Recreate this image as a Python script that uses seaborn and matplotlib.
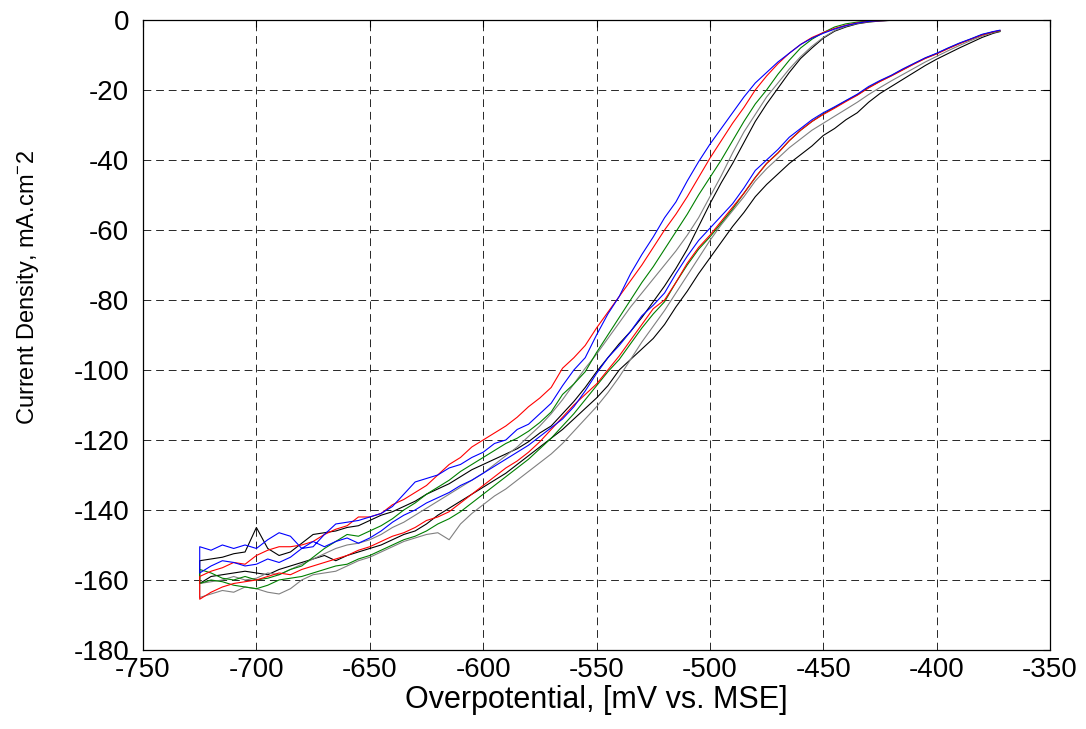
import matplotlib
matplotlib.use("Agg")
import matplotlib.pyplot as plt
import seaborn as sns
import pandas as pd

# Potential grid (mV vs. MSE), shared by all branches
POTENTIAL = [-725, -720, -715, -710, -705, -700, -695, -690, -685, -680,
             -675, -670, -665, -660, -655, -650, -645, -640, -635, -630,
             -625, -620, -615, -610, -605, -600, -595, -590, -585, -580,
             -575, -570, -565, -560, -555, -550, -545, -540, -535, -530,
             -525, -520, -515, -510, -505, -500, -495, -490, -485, -480,
             -475, -470, -465, -460, -455, -450, -445, -440, -435, -430,
             -425, -420, -415, -410, -405, -400, -395, -390, -385, -380,
             -375, -372]

# Forward (cathodic) sweep branches, listed at POTENTIAL order
BLUE_FWD = [-158.0, -156.0, -154.5, -155.0, -156.0, -155.5, -154.0, -155.0, -153.5, -151.0,
            -149.0, -150.5, -149.0, -148.0, -149.5, -148.0, -146.0, -143.5, -141.5, -140.0,
            -138.0, -136.5, -135.0, -133.0, -131.5, -129.5, -127.5, -125.5, -123.5, -121.5,
            -119.0, -116.5, -114.0, -110.5, -106.0, -101.0, -96.5, -93.0, -89.0, -84.5,
            -81.5, -78.0, -72.5, -67.5, -63.0, -59.5, -56.0, -52.5, -48.0, -43.0,
            -40.0, -37.0, -33.5, -31.0, -28.5, -26.5, -24.8, -23.0, -21.2, -19.0,
            -17.3, -15.8, -14.0, -12.4, -10.8, -9.5, -8.0, -6.6, -5.4, -4.1,
            -3.3, -2.9]
RED_FWD = [-165.5, -163.5, -162.0, -161.0, -160.5, -160.0, -159.0, -158.0, -158.5, -157.0,
           -156.0, -155.0, -154.0, -153.0, -151.5, -150.5, -149.0, -147.5, -146.5, -145.0,
           -143.0, -142.0, -140.5, -138.0, -135.5, -133.0, -130.5, -128.0, -126.0, -123.5,
           -120.5, -117.0, -113.5, -110.0, -107.0, -104.0, -100.0, -96.0, -91.5, -87.0,
           -82.5, -80.0, -75.0, -69.5, -65.0, -61.5, -57.5, -53.5, -49.5, -45.0,
           -41.0, -38.0, -34.5, -31.5, -29.0, -27.0, -25.2, -23.3, -21.5, -19.4,
           -17.6, -16.0, -14.3, -12.6, -11.0, -9.7, -8.2, -6.8, -5.5, -4.3,
           -3.4, -3.0]
GREEN_FWD = [-161.0, -160.0, -160.5, -161.5, -162.0, -162.5, -161.5, -160.0, -159.5, -159.0,
             -158.0, -157.0, -156.0, -155.5, -154.0, -153.0, -151.5, -150.0, -148.5, -147.5,
             -146.0, -144.0, -142.5, -140.5, -138.0, -135.5, -133.0, -130.5, -128.0, -125.5,
             -122.5, -119.5, -116.0, -112.5, -108.5, -104.5, -100.5, -97.0, -92.5, -88.0,
             -84.0, -80.5, -75.0, -70.0, -65.5, -62.0, -58.0, -54.0, -49.5, -45.0,
             -41.0, -38.0, -34.5, -31.5, -29.0, -26.8, -25.0, -23.1, -21.4, -19.3,
             -17.5, -15.9, -14.2, -12.5, -10.9, -9.6, -8.1, -6.7, -5.5, -4.2,
             -3.4, -3.1]
GRAY_FWD = [-165.0, -164.0, -163.0, -163.5, -162.0, -162.5, -163.5, -164.0, -162.5, -160.0,
            -158.5, -158.0, -157.5, -156.0, -154.5, -153.5, -152.0, -150.5, -149.0, -148.0,
            -147.0, -146.5, -148.5, -144.0, -141.0, -138.5, -136.0, -134.0, -131.5, -129.0,
            -126.5, -124.0, -121.0, -117.5, -114.0, -110.5, -106.5, -102.0, -97.0, -92.0,
            -87.5, -83.0, -78.0, -73.0, -68.0, -63.0, -58.5, -54.5, -50.5, -46.0,
            -42.5, -39.5, -36.5, -34.0, -31.5, -29.5, -27.5, -25.5, -23.5, -21.3,
            -19.3, -17.4, -15.6, -13.8, -12.0, -10.4, -8.8, -7.3, -5.9, -4.6,
            -3.6, -3.2]
BLACK_FWD = [-161.0, -159.0, -158.5, -158.0, -157.5, -158.0, -158.5, -157.0, -156.0, -155.0,
             -154.0, -153.0, -154.5, -153.0, -152.0, -151.0, -150.0, -148.5, -147.0, -146.0,
             -144.0, -141.5, -139.5, -137.5, -135.5, -133.5, -131.5, -129.5, -127.0, -124.5,
             -122.0, -119.5, -117.0, -114.0, -111.0, -108.0, -104.5, -100.0, -97.0, -94.0,
             -91.0, -87.0, -82.0, -77.5, -72.5, -68.0, -63.5, -59.0, -55.0, -50.5,
             -47.0, -44.0, -41.0, -38.5, -36.0, -33.0, -31.0, -28.5, -26.5, -23.5,
             -21.0, -19.0, -17.0, -15.0, -13.0, -11.2, -9.6, -8.0, -6.5, -5.0,
             -3.8, -3.3]

# Return sweep branches, listed at POTENTIAL order
BLUE_REV = [-150.5, -151.5, -150.0, -151.0, -150.0, -151.0, -148.5, -146.5, -147.5, -151.0,
            -150.5, -147.0, -144.0, -143.5, -143.0, -142.0, -141.0, -139.0, -135.5, -132.0,
            -131.0, -130.0, -128.0, -127.0, -125.0, -123.5, -121.0, -120.0, -117.0, -115.5,
            -112.5, -109.5, -104.5, -100.0, -96.5, -90.0, -84.0, -79.0, -72.5, -67.0,
            -62.0, -56.5, -52.0, -46.0, -40.5, -35.5, -31.0, -26.5, -22.0, -18.0,
            -15.0, -12.0, -9.5, -7.0, -5.2, -3.8, -2.6, -1.6, -0.9, -0.4,
            -0.2, -0.1, 0.0, 0.0, 0.0, 0.0, 0.0, 0.0, 0.0, 0.0,
            0.0, 0.0]
RED_REV = [-159.0, -157.5, -156.5, -155.0, -155.5, -153.0, -151.5, -150.5, -150.5, -150.0,
           -149.0, -147.0, -145.5, -144.5, -142.0, -142.0, -141.0, -138.5, -137.0, -135.0,
           -133.0, -130.0, -127.0, -125.0, -122.0, -120.0, -118.0, -116.0, -113.5, -110.5,
           -108.0, -105.0, -99.5, -96.5, -93.0, -88.0, -83.5, -79.0, -74.5, -70.0,
           -65.0, -60.0, -55.5, -50.5, -45.0, -39.5, -34.5, -29.5, -25.0, -20.0,
           -16.0, -12.5, -9.5, -7.0, -5.0, -3.6, -2.4, -1.5, -0.8, -0.4,
           -0.2, -0.1, 0.0, 0.0, 0.0, 0.0, 0.0, 0.0, 0.0, 0.0,
           0.0, 0.0]
GREEN_REV = [-157.0, -158.0, -159.5, -160.0, -159.0, -160.0, -159.5, -158.5, -157.0, -156.0,
             -153.5, -151.0, -149.0, -147.0, -147.5, -146.0, -144.5, -142.5, -140.0, -138.0,
             -135.5, -133.5, -131.5, -129.0, -127.0, -125.0, -123.0, -121.0, -119.5, -117.5,
             -115.0, -112.0, -107.0, -104.0, -100.5, -95.0, -90.0, -85.0, -80.0, -75.0,
             -70.5, -65.5, -60.5, -55.5, -50.0, -45.0, -40.0, -34.5, -29.0, -24.0,
             -20.0, -15.5, -11.5, -8.0, -5.5, -3.6, -2.0, -1.1, -0.6, -0.3,
             -0.1, 0.0, 0.0, 0.0, 0.0, 0.0, 0.0, 0.0, 0.0, 0.0,
             0.0, 0.0]
GRAY_REV = [-161.0, -160.5, -160.0, -159.0, -160.0, -159.5, -158.0, -158.5, -157.0, -155.5,
            -154.0, -152.5, -151.0, -150.0, -149.5, -148.5, -147.0, -145.0, -143.5, -141.5,
            -139.5, -137.5, -135.5, -133.5, -131.5, -129.5, -127.0, -124.5, -122.0, -119.0,
            -116.0, -112.5, -108.5, -104.0, -99.5, -95.5, -91.0, -86.5, -82.0, -78.0,
            -74.0, -70.0, -66.0, -61.5, -56.5, -50.5, -44.5, -38.0, -32.0, -27.0,
            -22.0, -18.0, -14.0, -10.5, -7.5, -5.0, -3.0, -1.8, -1.0, -0.5,
            -0.2, -0.1, 0.0, 0.0, 0.0, 0.0, 0.0, 0.0, 0.0, 0.0,
            0.0, 0.0]
BLACK_REV = [-154.5, -154.0, -153.5, -152.5, -152.0, -145.0, -151.0, -153.0, -152.0, -149.5,
             -147.0, -146.5, -146.0, -145.0, -144.5, -143.0, -141.5, -140.5, -139.0, -137.5,
             -135.5, -134.0, -132.5, -130.5, -128.5, -127.0, -125.5, -124.0, -122.5, -120.5,
             -118.0, -116.0, -112.5, -109.0, -105.0, -100.5, -96.5, -92.5, -89.0, -85.0,
             -80.5, -76.0, -71.0, -65.5, -59.0, -52.5, -46.5, -41.0, -35.0, -29.0,
             -24.0, -19.5, -15.0, -11.0, -8.0, -5.2, -3.2, -2.0, -1.1, -0.6,
             -0.3, -0.1, 0.0, 0.0, 0.0, 0.0, 0.0, 0.0, 0.0, 0.0,
             0.0, 0.0]

RUNS = ["black", "gray", "green", "red", "blue"]
FWD = {"blue": BLUE_FWD, "red": RED_FWD, "green": GREEN_FWD, "gray": GRAY_FWD, "black": BLACK_FWD}
REV = {"blue": BLUE_REV, "red": RED_REV, "green": GREEN_REV, "gray": GRAY_REV, "black": BLACK_REV}
PALETTE = {"blue": "#0000ff", "red": "#ff0000", "green": "#008000",
           "gray": "#808080", "black": "#000000"}

X_TICKS = [-750, -700, -650, -600, -550, -500, -450, -400, -350]
Y_TICKS = [-180, -160, -140, -120, -100, -80, -60, -40, -20, 0]

rows = []
for run in RUNS:
    order = 0
    # forward sweep: from -372 down to -725
    for p, j in zip(reversed(POTENTIAL), reversed(FWD[run])):
        rows.append((run, order, p, j)); order += 1
    # return sweep: from -725 back to -372
    for p, j in zip(POTENTIAL, REV[run]):
        rows.append((run, order, p, j)); order += 1
df = pd.DataFrame(rows, columns=["run", "order", "potential", "current"])

sns.set_style("white")
plt.rcParams["font.family"] = ["Liberation Sans", "DejaVu Sans"]
plt.rcParams["axes.unicode_minus"] = False
plt.rcParams["mathtext.fontset"] = "custom"
plt.rcParams["mathtext.rm"] = "Liberation Sans"

fig, ax = plt.subplots(figsize=(10.86, 7.29), dpi=100)
fig.subplots_adjust(left=0.1317, right=0.9669, top=0.9726, bottom=0.1084)

sns.lineplot(data=df, x="potential", y="current", hue="run", units="run",
             estimator=None, sort=False, palette=PALETTE, hue_order=RUNS,
             linewidth=0.8, legend=False, ax=ax)

ax.set_xlim(-750, -350)
ax.set_ylim(-180, 0)
ax.set_xticks(X_TICKS)
ax.set_yticks(Y_TICKS)
ax.set_xticklabels([str(v) for v in X_TICKS])
ax.set_yticklabels([str(v) for v in Y_TICKS])
ax.tick_params(direction="in", length=5, width=0.8, top=True, right=True,
               labelsize=20, colors="black")
ax.tick_params(axis="y", pad=10)
ax.tick_params(axis="x", pad=5)
ax.grid(True, color="0.15", linestyle=(0, (8, 5)), linewidth=0.7)
ax.set_axisbelow(True)
for s in ax.spines.values():
    s.set_visible(True)
    s.set_color("black")
    s.set_linewidth(0.9)

ax.set_xlabel("Overpotential, [mV vs. MSE]", fontsize=22, color="black")
ax.xaxis.set_label_coords(0.5, -0.056)
ax.set_ylabel(r"Current Density, mA.cm$^{\mathregular{-}}$2", fontsize=17, color="black")
ax.yaxis.set_label_coords(-0.113, 0.575)

fig.savefig("out.png", dpi=100)
